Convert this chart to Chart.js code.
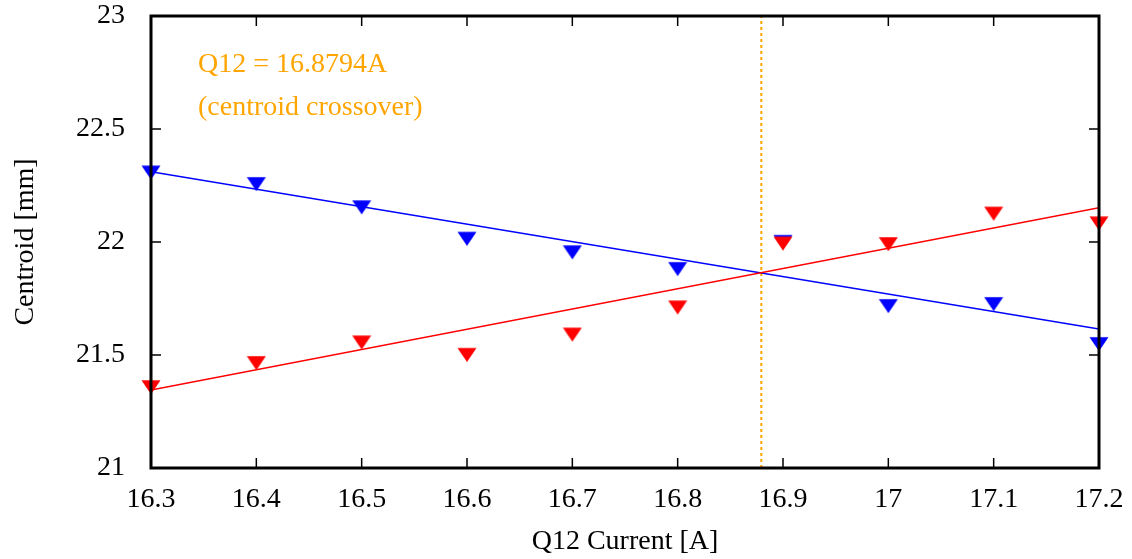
<!DOCTYPE html>
<html>
<head>
<meta charset="utf-8">
<script src="https://cdn.jsdelivr.net/npm/chart.js@4.4.0/dist/chart.umd.min.js"></script>
<style>
  html, body { margin: 0; padding: 0; background: #ffffff; }
  #wrap { width: 1132px; height: 559px; }
</style>
</head>
<body>
<div id="wrap"><canvas id="centroidChart" width="1132" height="559"></canvas></div>
<script>
// Data
const currents = [16.3, 16.4, 16.5, 16.6, 16.7, 16.8, 16.9, 17.0, 17.1, 17.2];
const blueCentroid = [22.317, 22.266, 22.163, 22.024, 21.964, 21.89, 22.01, 21.726, 21.735, 21.558];
const redCentroid = [21.367, 21.474, 21.565, 21.51, 21.60, 21.72, 22.003, 22.00, 22.135, 22.092];

// Linear fits (end points)
const fitX = [16.3, 17.2];
const blueFit = [22.311, 21.615];
const redFit = [21.345, 22.152];

// Crossover marker
const crossover = 16.8794;
const crossoverY = [21, 23];

const xTicks = [16.3, 16.4, 16.5, 16.6, 16.7, 16.8, 16.9, 17.0, 17.1, 17.2];
const yTicks = [21, 21.5, 22, 22.5, 23];

const FONT = "'Liberation Serif', 'DejaVu Serif', serif";
const ORANGE = '#ffa500';

// gnuplot-like flat downward triangle, centroid at the canvas centre
function makeTriangle(color) {
    const c = document.createElement('canvas');
    c.width = 20;
    c.height = 20;
    const g = c.getContext('2d');
    g.fillStyle = color;
    g.beginPath();
    g.moveTo(0.5, 5.3);
    g.lineTo(19.5, 5.3);
    g.lineTo(10, 19.3);
    g.closePath();
    g.fill();
    return c;
}

function toPoints(xs, ys) {
    return xs.map((x, i) => ({ x: x, y: ys[i] }));
}

// pin the plot frame where the reference has it
function pinPadding(scale) {
    scale.paddingTop = 0;
    scale.paddingBottom = 0;
    scale.paddingLeft = 0;
    scale.paddingRight = 0;
}

// Frame, inward ticks and annotation text
const framePlugin = {
    id: 'frame',
    afterDatasetsDraw(chart) {
        const ctx = chart.ctx;
        const a = chart.chartArea;
        const xs = chart.scales.x;
        const ys = chart.scales.y;
        ctx.save();
        ctx.strokeStyle = '#000000';
        ctx.lineWidth = 1.5;
        ctx.beginPath();
        xTicks.forEach(v => {
            const px = xs.getPixelForValue(v);
            ctx.moveTo(px, a.bottom);
            ctx.lineTo(px, a.bottom - 10);
            ctx.moveTo(px, a.top);
            ctx.lineTo(px, a.top + 10);
        });
        yTicks.forEach(v => {
            const py = ys.getPixelForValue(v);
            ctx.moveTo(a.left, py);
            ctx.lineTo(a.left + 10, py);
            ctx.moveTo(a.right, py);
            ctx.lineTo(a.right - 10, py);
        });
        ctx.stroke();

        ctx.lineWidth = 3;
        ctx.strokeRect(a.left, a.top, a.right - a.left, a.bottom - a.top);

        ctx.fillStyle = ORANGE;
        ctx.font = '28px ' + FONT;
        ctx.textAlign = 'left';
        ctx.textBaseline = 'alphabetic';
        ctx.fillText('Q12 = 16.8794A', a.left + 47, a.top + 56);
        ctx.fillText('(centroid crossover)', a.left + 47, a.top + 99);
        ctx.restore();
    }
};

const ctx = document.getElementById('centroidChart').getContext('2d');
const chart = new Chart(ctx, {
    type: 'scatter',
    data: {
        datasets: [
            {
                label: 'crossover',
                data: toPoints([crossover, crossover], crossoverY),
                showLine: true,
                borderColor: ORANGE,
                borderWidth: 2,
                borderDash: [3, 3],
                pointRadius: 0,
                order: 5
            },
            {
                label: 'blue fit',
                data: toPoints(fitX, blueFit),
                showLine: true,
                borderColor: '#0000ff',
                borderWidth: 1.5,
                pointRadius: 0,
                order: 2
            },
            {
                label: 'red fit',
                data: toPoints(fitX, redFit),
                showLine: true,
                borderColor: '#ff0000',
                borderWidth: 1.5,
                pointRadius: 0,
                order: 1
            },
            {
                label: 'blue',
                data: toPoints(currents, blueCentroid),
                pointStyle: makeTriangle('#0000ff'),
                pointRadius: 6,
                pointHoverRadius: 6,
                clip: false,
                order: 4
            },
            {
                label: 'red',
                data: toPoints(currents, redCentroid),
                pointStyle: makeTriangle('#ff0000'),
                pointRadius: 6,
                pointHoverRadius: 6,
                clip: false,
                order: 3
            }
        ]
    },
    options: {
        responsive: false,
        animation: false,
        devicePixelRatio: 1,
        layout: { padding: { top: 16, right: 33, left: 0, bottom: 0 } },
        plugins: {
            legend: { display: false },
            tooltip: { enabled: false }
        },
        scales: {
            x: {
                type: 'linear',
                min: 16.3,
                max: 17.2,
                afterBuildTicks: scale => {
                    scale.ticks = xTicks.map(v => ({ value: v }));
                },
                afterFit: scale => {
                    scale.height = 91;
                    pinPadding(scale);
                },
                ticks: {
                    color: '#000000',
                    font: { family: FONT, size: 28 },
                    padding: 7,
                    maxRotation: 0,
                    autoSkip: false,
                    callback: v => String(Number(v.toFixed(1)))
                },
                grid: { display: false },
                border: { display: false },
                title: {
                    display: true,
                    text: 'Q12 Current [A]',
                    color: '#000000',
                    font: { family: FONT, size: 28 },
                    padding: { top: 0, bottom: 1 }
                }
            },
            y: {
                type: 'linear',
                min: 21,
                max: 23,
                afterBuildTicks: scale => {
                    scale.ticks = yTicks.map(v => ({ value: v }));
                },
                afterFit: scale => {
                    scale.width = 151;
                    pinPadding(scale);
                },
                ticks: {
                    color: '#000000',
                    font: { family: FONT, size: 28 },
                    padding: 18,
                    autoSkip: false,
                    callback: v => String(v)
                },
                grid: { display: false },
                border: { display: false },
                title: {
                    display: true,
                    text: 'Centroid [mm]',
                    color: '#000000',
                    font: { family: FONT, size: 28 },
                    padding: { top: 9, bottom: 0 }
                }
            }
        }
    },
    plugins: [framePlugin]
});
</script>
</body>
</html>
